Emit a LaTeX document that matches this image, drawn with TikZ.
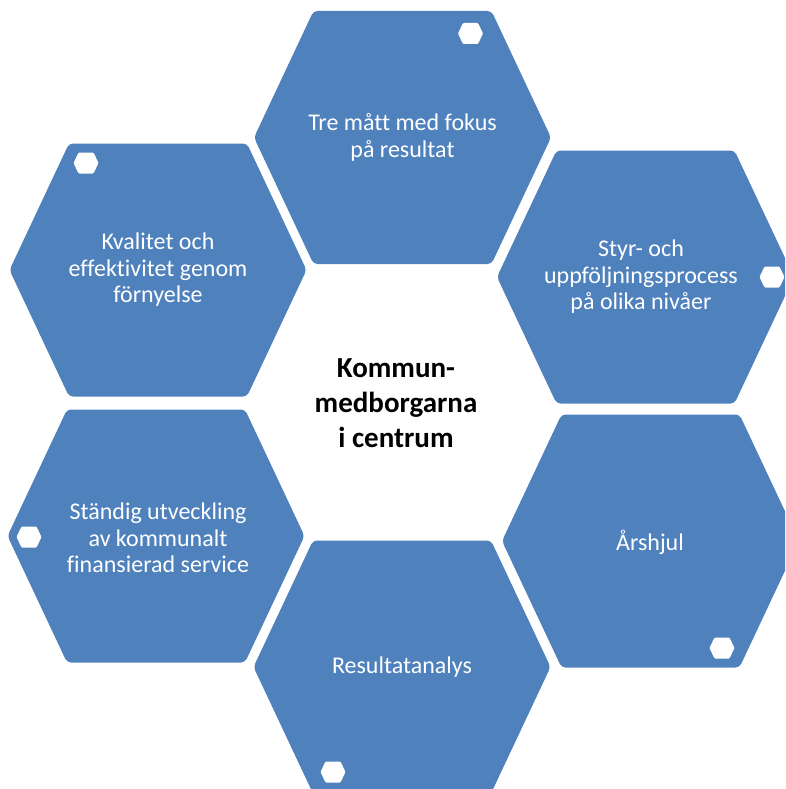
\documentclass[tikz,border=0pt]{standalone}
\usepackage{fontspec}
\setmainfont{Carlito}[Ligatures={NoCommon}]
\definecolor{cellblue}{RGB}{79,129,189}
\tikzset{
  cell/.pic={\fill[cellblue, rounded corners=4pt]
      (-148.5,0) -- (-89,-126.5) -- (89,-126.5) -- (148.5,0)
      -- (89,126.5) -- (-89,126.5) -- cycle;},
  badge/.pic={\fill[white, rounded corners=1pt]
      (-12.5,0) -- (-7.5,-10.5) -- (7.5,-10.5) -- (12.5,0)
      -- (7.5,10.5) -- (-7.5,10.5) -- cycle;},
  celltext/.style={text=white, align=center, inner sep=0pt,
      font=\fontsize{24}{26.5}\selectfont},
  hubtext/.style={text=black, align=center, inner sep=0pt,
      font=\bfseries\fontsize{29}{35}\selectfont},
}
\begin{document}
\begin{tikzpicture}[x=1pt,y=-1pt]
\useasboundingbox (0,0) rectangle (785,789);
\clip (0,0) rectangle (785,789);

% six honeycomb cells around the hub
\pic at (402.5,137.5) {cell};
\pic at (158,270) {cell};
\pic at (645.5,277) {cell};
\pic at (156,536) {cell};
\pic at (650.5,541) {cell};
\pic at (402,667) {cell};

% small white markers
\pic at (470.5,33.5) {badge};
\pic at (86,163) {badge};
\pic at (772,277) {badge};
\pic at (29,537) {badge};
\pic at (722,648) {badge};
\pic at (333,772) {badge};

% labels
\node[celltext] (measures) at (402.5,137.5) {Tre mått med fokus\\på resultat};
\node[celltext] (quality) at (158,270) {Kvalitet och\\effektivitet genom\\förnyelse};
\node[celltext] (process) at (641,277) {Styr- och\\uppföljningsprocess\\på olika nivåer};
\node[celltext] (service) at (158,538) {Ständig utveckling\\av kommunalt\\finansierad service};
\node[celltext] (cycle) at (650,542) {Årshjul};
\node[celltext] (analysis) at (402,667) {Resultatanalys};

\node[hubtext] (hub) at (396,403) {Kommun-\\medborgarna\\i centrum};
\end{tikzpicture}
\end{document}
